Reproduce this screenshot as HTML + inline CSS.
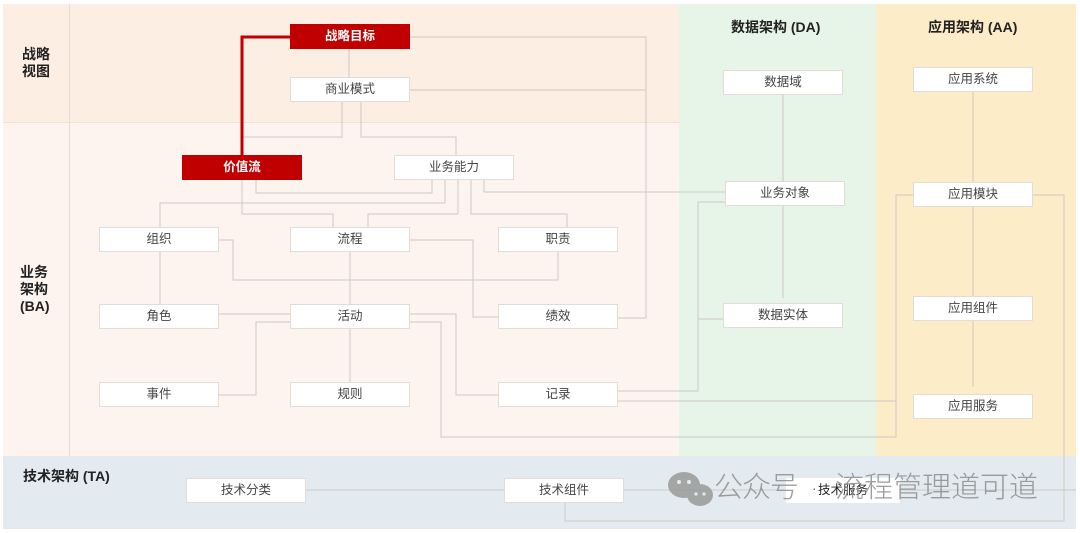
<!DOCTYPE html>
<html><head><meta charset="utf-8">
<style>
body{margin:0;width:1080px;height:533px;background:#fff;position:relative;overflow:hidden;font-family:"Liberation Sans","Noto Sans CJK SC",sans-serif}
.r{position:absolute}
.n{position:absolute;width:120px;height:25px;background:#fff;border:1px solid #e2dcd8;box-sizing:border-box;color:#444;font-size:12.5px;line-height:23px;text-align:center;z-index:3}
.red{background:#c00000;border-color:#c00000;color:#fff;font-weight:bold}
.t{position:absolute;font-weight:bold;color:#222;font-size:14px;line-height:17px;z-index:3}
svg{position:absolute;left:0;top:0;z-index:2}
.w{position:absolute;font-size:29px;line-height:36px;color:rgba(140,140,140,0.85);z-index:4;white-space:nowrap;font-weight:300}
</style></head><body>
<div class="r" style="left:3px;top:4px;width:676px;height:118px;background:#fdeee4"></div>
<div class="r" style="left:3px;top:122px;width:676px;height:334px;background:#fdf3ef"></div>
<div class="r" style="left:679px;top:4px;width:197px;height:452px;background:#e6f5e8"></div>
<div class="r" style="left:876px;top:4px;width:200px;height:452px;background:#fdecc8"></div>
<div class="r" style="left:3px;top:456px;width:1073px;height:73px;background:#e3ebf0"></div>
<div class="r" style="left:69px;top:4px;width:1px;height:452px;background:#e6dcd6"></div>
<div class="r" style="left:3px;top:122px;width:676px;height:1px;background:#efe2da"></div>

<div class="t" style="left:22px;top:46px">战略<br>视图</div>
<div class="t" style="left:20px;top:264px">业务<br>架构<br>(BA)</div>
<div class="t" style="left:23px;top:468px">技术架构 (TA)</div>
<div class="t" style="left:731px;top:19px">数据架构 (DA)</div>
<div class="t" style="left:928px;top:19px">应用架构 (AA)</div>

<svg width="1080" height="533">
<g fill="none" stroke="#cfc8c4" stroke-width="1">
<polyline points="409,37 646,37 646,318 618,318"/>
<line x1="409" y1="90" x2="646" y2="90"/>
<line x1="349" y1="49" x2="349" y2="77"/>
<polyline points="342,102 342,137 243,137"/>
<polyline points="361,102 361,137 456,137 456,155"/>
<polyline points="256,180 256,193 432,193 432,180"/>
<polyline points="445,180 445,203 160,203 160,227"/>
<polyline points="242,180 242,214 333,214 333,227"/>
<polyline points="458,180 458,214 368,214 368,227"/>
<polyline points="471,180 471,214 567,214 567,227"/>
<polyline points="484,180 484,192 725,192"/>
<polyline points="219,240 233,240 233,280 558,280 558,252"/>
<line x1="350" y1="252" x2="350" y2="304"/>
<polyline points="409,240 473,240 473,317 498,317"/>
<line x1="160" y1="252" x2="160" y2="304"/>
<line x1="219" y1="314" x2="290" y2="314"/>
<polyline points="219,395 256,395 256,322 290,322"/>
<line x1="350" y1="329" x2="350" y2="382"/>
<polyline points="409,314 456,314 456,395 498,395"/>
<polyline points="409,322 441,322 441,437 896,437 896,195 913,195"/>
<polyline points="618,391 698,391 698,202 725,202"/>
<line x1="618" y1="401" x2="896" y2="401"/>
<line x1="698" y1="319" x2="723" y2="319"/>
<line x1="783" y1="95" x2="783" y2="298"/>
<line x1="973" y1="92" x2="973" y2="387"/>
<polyline points="1033,195 1064,195 1064,521 565,521 565,503"/>
<line x1="306" y1="490" x2="1076" y2="490"/>
</g>
<polyline points="290,37 242,37 242,155" fill="none" stroke="#c00000" stroke-width="3"/>
</svg>

<div class="n red" style="left:290px;top:24px">战略目标</div>
<div class="n" style="left:290px;top:77px">商业模式</div>
<div class="n red" style="left:182px;top:155px">价值流</div>
<div class="n" style="left:394px;top:155px">业务能力</div>
<div class="n" style="left:99px;top:227px">组织</div>
<div class="n" style="left:290px;top:227px">流程</div>
<div class="n" style="left:498px;top:227px">职责</div>
<div class="n" style="left:99px;top:304px">角色</div>
<div class="n" style="left:290px;top:304px">活动</div>
<div class="n" style="left:498px;top:304px">绩效</div>
<div class="n" style="left:99px;top:382px">事件</div>
<div class="n" style="left:290px;top:382px">规则</div>
<div class="n" style="left:498px;top:382px">记录</div>
<div class="n" style="left:723px;top:70px">数据域</div>
<div class="n" style="left:725px;top:181px">业务对象</div>
<div class="n" style="left:723px;top:303px">数据实体</div>
<div class="n" style="left:913px;top:67px">应用系统</div>
<div class="n" style="left:913px;top:182px">应用模块</div>
<div class="n" style="left:913px;top:296px">应用组件</div>
<div class="n" style="left:913px;top:394px">应用服务</div>
<div class="n" style="left:186px;top:478px">技术分类</div>
<div class="n" style="left:504px;top:478px">技术组件</div>
<div class="n" style="left:786px;top:478px;width:114px;border-color:#fff;color:#222">技术服务</div>

<svg width="1080" height="533" style="z-index:4">
<g fill="#9a9a9a" opacity="0.85">
<ellipse cx="684" cy="485" rx="16" ry="13"/>
<ellipse cx="700" cy="495" rx="13" ry="11"/>
<circle cx="679" cy="482" r="2" fill="#e3ebf0"/><circle cx="689" cy="482" r="2" fill="#e3ebf0"/>
<circle cx="696" cy="494" r="1.6" fill="#e3ebf0"/><circle cx="704" cy="494" r="1.6" fill="#e3ebf0"/>
</g>
</svg>
<div class="w" style="left:714px;top:470px;letter-spacing:-1px">公众号</div>
<div class="w" style="left:812px;top:470px;font-size:14px;color:#666">·</div>
<div class="w" style="left:835px;top:470px;letter-spacing:0px">流程管理道可道</div>
</body></html>
